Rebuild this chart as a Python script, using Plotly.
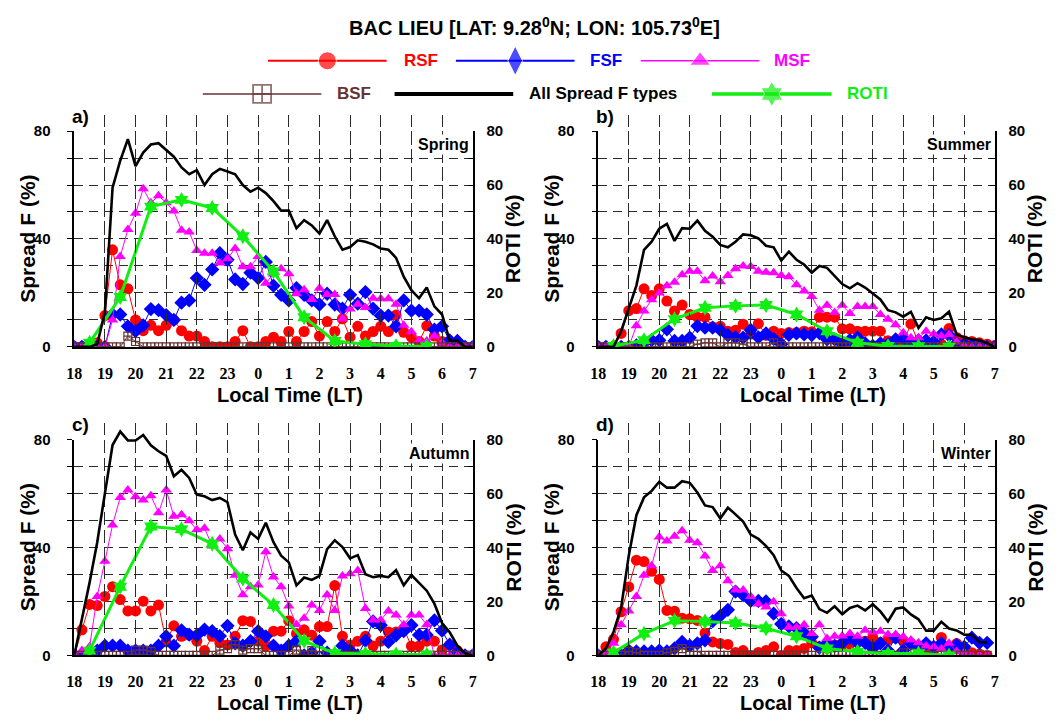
import plotly.graph_objects as go

W, H = 1064, 724

# 15-minute observation slots from 18:00 LT to 07:00 LT (hours counted from the first evening)
SLOTS = [18 + 0.25 * k for k in range(53)]
ROTI_TIMES = [18.5, 19.5, 20.5, 21.5, 22.5, 23.5, 24.5, 25.5, 26.5, 27.5, 28.5, 29.5]
HOUR_TICKS = [18, 19, 20, 21, 22, 23, 24, 25, 26, 27, 28, 29, 30, 31]
HOUR_LABELS = ["18", "19", "20", "21", "22", "23", "0", "1", "2", "3", "4", "5", "6", "7"]
LEVELS = [0, 10, 20, 30, 40, 50, 60, 70, 80]
LEFT_LABELS = ["0", "", "", "", "40", "", "", "", "80"]
RIGHT_LABELS = ["0", "", "20", "", "40", "", "60", "", "80"]

# ---------------- Spring ----------------
ALL_SPRING = [0, 0, 0, 1, 13, 59, 69, 77, 67, 72, 75, 75.5, 73, 70.5, 66.5, 64, 65.5, 60, 64, 66,
              65, 64, 60, 57.5, 59, 57, 54, 50.5, 50.5, 44, 47, 45, 42, 47, 41, 36, 37, 39.5, 39, 38,
              36.5, 36, 33, 26, 21, 18, 22, 15, 12, 2.3, 2.3, 0, 0]
RSF_SPRING = [0, 0, 0, 1.5, 11.6, 36, 23, 21.5, 10, 6, 8, 6, 8, 10, 6, 4, 4, 2, 0, 0,
              0, 2, 6, 0, 0, 2, 3.6, 2, 5.7, 2, 5.7, 9.4, 4, 9.4, 5.7, 10.4, 3.6, 7.6, 4, 5.7,
              7.6, 5.7, 11.8, 5.4, 3.6, 2, 7.8, 4, 2, 0, 0, 0, 0]
FSF_SPRING = [0, 0, 0, 0, 0, 12, 12, 7.6, 5.8, 8, 14, 13.6, 11.8, 10, 16.4, 17.2, 25.5, 23, 28.7, 34.7,
              32.3, 25, 23.3, 27.5, 25.5, 31.5, 22.7, 19.3, 17.2, 21.8, 19.3, 17.2, 15.7, 19.7, 15.7, 14.2, 19.3, 16, 20.3, 14.2,
              11.6, 11.6, 7.6, 17.2, 13.4, 13.4, 12, 6.4, 7.6, 2.4, 2.2, 0, 0]
MSF_SPRING = [0, 0, 0, 0, 0, 10, 33.5, 43.5, 49.5, 58.6, 53.4, 56, 53.4, 50.4, 43.2, 42.6, 35.7, 34.7, 34.7, 31.1,
              32.7, 36.5, 29.7, 29.7, 33.5, 23.6, 27, 29, 27.1, 19.7, 21.2, 17.6, 21.7, 19.4, 19.4, 10.4, 14, 15.8, 14.6, 18,
              17.8, 17.8, 15.8, 8, 5.6, 2.3, 2.2, 4, 1.5, 0, 0, 0, 0]
BSF_SPRING = [0, 0, 0, 0, 0, 0, 0, 4, 2, 0, 0, 0, 0, 0, 0, 0, 0, 0, 0, 0,
              0, 0, 0, 0, 0, 0, 0, 0, 0, 0, 0, 0, 0, 0, 0, 0, 0, 0, 0, 0,
              0, 0, 0, 0, 0, 0, 0, 0, 0, 0, 0, 0, 0]
ROTI_SPRING = [1.5, 18.5, 52, 54.5, 51.5, 41, 28, 11, 2.2, 1, 0.3, 0.2]

# ---------------- Summer ----------------
ALL_SUMMER = [0, 0, 0, 5.8, 14, 22.7, 36, 39, 43.8, 45.6, 39.3, 44, 43.8, 46.8, 43, 40.8, 37.8, 36.9, 39, 41.7,
              41.4, 40.2, 37.5, 36.9, 32, 35.3, 32.3, 30.5, 27.5, 30, 29.3, 26.3, 23.3, 21.7, 23.6, 22, 19.7, 17.6, 13.6, 12.8,
              11.2, 13, 7, 11, 10, 10.6, 13, 4.6, 3.6, 2.8, 2.5, 1.3, 0]
RSF_SUMMER = [0, 0, 0, 5, 13.4, 14.2, 21.5, 19, 21.5, 17, 13.3, 15.5, 12, 11, 11, 7.4, 7.6, 5.8, 6.2, 8.4,
              4.7, 8.6, 4.3, 5.8, 5, 5.3, 5.3, 5.8, 5.6, 11, 11, 11, 6.7, 6.7, 5.8, 5.8, 5.8, 5.8, 2.3, 2.3,
              1.5, 8.5, 1.5, 1, 1, 1, 6.8, 3.5, 2.3, 2, 1.5, 1, 0.5]
FSF_SUMMER = [0, 0, 0, 0, 0, 0.5, 1.5, 2.5, 2.5, 6.5, 2.2, 2.2, 3.4, 7.7, 7.1, 7.1, 6.3, 4.3, 3.6, 3.4,
              6.3, 3.5, 5, 3, 1, 4.5, 5, 4.6, 4.4, 5.1, 2.8, 2.8, 1, 2.5, 3.5, 1.3, 0.4, 1.3, 1, 2.8,
              3, 1.2, 2.4, 2.4, 1.8, 4.6, 4.3, 1.3, 1, 0.5, 0.5, 0, 0]
MSF_SUMMER = [0, 0, 0, 0, 0, 7.8, 13.3, 17.5, 20, 22.7, 24, 26.7, 28, 28, 24.5, 26.3, 24.1, 26.5, 29, 30,
              29.8, 28, 27.7, 27.5, 26.5, 26, 23, 20.7, 18.7, 13.6, 15.4, 12.7, 15.4, 12.4, 15, 15, 15, 12, 10.2, 8.2,
              5.2, 3.4, 3.4, 5.8, 4.8, 4, 4.6, 1.8, 0.5, 0, 0, 0, 0]
BSF_SUMMER = [0, 0, 0, 0, 0, 0, 0, 0, 0, 0, 0, 0, 0, 1, 1.5, 1.5, 0, 1.5, 1.5, 1,
              0, 0, 0, 1.5, 0.5, 0, 0, 0, 0, 0, 0, 0, 0, 0, 0, 0, 0, 0, 0, 0,
              0, 0, 0, 0, 0, 0, 0, 0, 0, 0, 0, 0, 0]
ROTI_SUMMER = [0.3, 2.5, 10.3, 14.5, 15.2, 15.5, 12, 5.8, 1.5, 0.3, 0.2, 0.1]

# ---------------- Autumn ----------------
ALL_AUTUMN = [0, 13, 27, 42, 60, 78, 83, 79.7, 79.7, 81.7, 77.9, 75.7, 74, 66.4, 68.8, 65.8, 59.6, 59, 57.6, 58.4,
              56.8, 44.8, 39, 45.6, 43.2, 49.2, 42, 37, 34.5, 26, 28.9, 28, 29.5, 39.4, 42.7, 40.2, 36, 37.2, 30.1, 29,
              29.5, 29, 31.6, 26, 29.8, 26.7, 24, 19.2, 12, 8.6, 3.6, 0.8, 0]
RSF_AUTUMN = [0, 9.5, 18.9, 18.5, 21.9, 25.5, 20.7, 16.5, 16.5, 20.1, 16.5, 18.7, 5, 11, 7.1, 7.5, 5.3, 1.8, 7.1, 4.7,
              3.9, 7.1, 12.9, 12.6, 5.3, 3.5, 9, 9, 12.9, 8.1, 9.5, 7.5, 10.7, 10.7, 25.9, 7.1, 3.9, 5.3, 7.1, 3.5,
              5.3, 8.7, 8.7, 9.9, 3.5, 3.5, 5.3, 5.3, 2, 3.9, 1.8, 0, 0]
FSF_AUTUMN = [0, 0, 0, 1.8, 3.6, 3.6, 3.6, 1.8, 1.8, 1.8, 1.8, 3.6, 7.1, 3.6, 9.3, 7.7, 7.5, 9.6, 9, 7.2,
              11, 4.5, 3.6, 5.3, 9, 7.1, 3.6, 1.8, 3.6, 5.3, 0, 1, 5.3, 1, 0, 3.6, 1.8, 0, 5.5, 12.6,
              11.2, 5, 7.5, 9, 11.2, 7.6, 7.6, 13, 9.2, 4, 1.2, 0, 0]
MSF_AUTUMN = [0, 1.8, 3.2, 21.9, 34.9, 48.4, 58.6, 61.3, 58.8, 57.6, 59.2, 52.9, 61.3, 51.6, 52.2, 49.9, 46.6, 47.2, 40.6, 43.2,
              39.6, 29.7, 22.5, 25.5, 26.1, 38.4, 29.1, 25.5, 18.3, 11.4, 13.8, 18.7, 16.7, 22.5, 16.7, 29.5, 30.3, 31.5, 17.4, 13.1,
              13.1, 16.5, 15, 11.4, 15, 15, 11.4, 0, 0, 0, 0, 0, 0]
BSF_AUTUMN = [0, 0, 0, 0, 0, 0, 0, 0, 2, 2, 1.5, 0, 0, 0, 0, 0, 0, 0, 0, 2,
              2.5, 4, 2, 2.5, 2.5, 0, 0, 0, 0, 2, 0, 1.8, 0, 0, 0, 0, 0, 0, 0, 0,
              0, 0, 0, 0, 0, 0, 0, 0, 0, 0, 0, 0, 0]
ROTI_AUTUMN = [1.8, 25.5, 47.8, 46.8, 41.4, 28.5, 18.7, 5.4, 0.8, 0.6, 0.4, 0.3]

# ---------------- Winter ----------------
ALL_WINTER = [0, 2.6, 8.7, 17.7, 37, 52, 58.6, 61, 64.4, 62.2, 62.2, 64.6, 64, 60.4, 55.6, 55, 50.8, 54.8, 52.3, 49.6,
              44.8, 43.2, 40.6, 37.2, 31.5, 29.5, 25, 21.2, 22.2, 17.2, 15.8, 18.2, 15.3, 17.6, 18.5, 16.7, 19, 16.3, 12.6, 17.3,
              17.8, 15.2, 13.4, 9.2, 9.2, 12.5, 10, 9.3, 7.7, 7.7, 4.9, 4.9, None]
RSF_WINTER = [0, 3.2, 6, 16.2, 25.4, 35.3, 34.8, 31.2, 28.2, 16.7, 16.4, 13.8, 13.6, 13, 8.3, 5, 4.4, 4.1, 1.1, 1.8,
              0, 1.1, 1.8, 3.2, 0, 1.8, 1.8, 2.6, 4.7, 3.2, 2.6, 3.9, 4, 4.2, 5.4, 5.3, 6.6, 4.8, 5.8, 6.5,
              5.5, 4.5, 3.5, 2.5, 2, 6.7, 1.5, 4.4, 2, 1, 0.5, 0, None]
FSF_WINTER = [0, 0, 0, 0, 1.8, 1.5, 1.5, 1.5, 1.8, 1.5, 2.6, 5, 3.6, 4.5, 5.6, 12.7, 14.7, 16.9, 23.7, 22.4,
              20.2, 20.2, 20, 15.5, 11.7, 10.8, 10.1, 8.3, 6.9, 2.9, 4.5, 3.5, 4.7, 6.6, 4.7, 4.7, 2.6, 4.5, 1.8, 6.6,
              1.8, 4.5, 2.6, 4.5, 3.2, 4.5, 3.2, 3.9, 3.2, 6.6, 4.7, 4.7, None]
MSF_WINTER = [0, 1, 4.5, 11.4, 16.5, 21.9, 29.7, 33.3, 43.9, 42.4, 44.2, 46.2, 42.7, 41.8, 36.9, 31.5, 33.3, 27.7, 24.3, 24.3,
              21.9, 19.1, 18, 19.9, 15.5, 10.5, 10.5, 11.4, 8.1, 11.4, 6.3, 7.1, 7.2, 8.1, 7.1, 9.3, 8.7, 9, 7.8, 7.8,
              6.9, 5.7, 4.7, 3.5, 3.2, 2.5, 4.5, 1.5, 1.1, 0, 0, 0, None]
BSF_WINTER = [0, 0, 0, 0, 1.5, 1, 0, 0, 0, 1, 1.5, 2.5, 1.5, 1.5, 0, 0, 0, 0, 0, 0,
              0, 0, 0, 0, 0, 0, 0, 0, 0, 0, 0, 0, 0, 0, 0, 0, 0, 0, 0, 0,
              1, 1, 0, 0, 0, 0, 0, 0, 0, 0, 0, 0, None]
ROTI_WINTER = [1.1, 8.1, 12.9, 12.6, 12, 10.1, 7.1, 2.6, 1.4, 0.6, 0.8, 0]

# ---------------- styling ----------------
C_RSF, C_FSF, C_MSF = "#ff0000", "#0000ff", "#ff00ff"
C_BSF, C_ALL, C_ROTI = "#663333", "#000000", "#11ee11"
GRID = "#2b2b2b"
DASH_H = "9px,6px"
DASH_V = "12px,6px"
SANS = "Liberation Sans"
SERIF = "Liberation Serif"
HEADROOM = 6  # percent above the 80 % frame where the total curve may rise

# plot-area boxes in pixels: left, right, top, bottom
PANELS = [
    dict(tag="a)", season="Spring", box=(67, 470, 125, 346),
         all=ALL_SPRING, rsf=RSF_SPRING, fsf=FSF_SPRING, msf=MSF_SPRING, bsf=BSF_SPRING, roti=ROTI_SPRING),
    dict(tag="b)", season="Summer", box=(597, 998, 125, 346),
         all=ALL_SUMMER, rsf=RSF_SUMMER, fsf=FSF_SUMMER, msf=MSF_SUMMER, bsf=BSF_SUMMER, roti=ROTI_SUMMER),
    dict(tag="c)", season="Autumn", box=(67, 470, 441, 662),
         all=ALL_AUTUMN, rsf=RSF_AUTUMN, fsf=FSF_AUTUMN, msf=MSF_AUTUMN, bsf=BSF_AUTUMN, roti=ROTI_AUTUMN),
    dict(tag="d)", season="Winter", box=(597, 998, 441, 662),
         all=ALL_WINTER, rsf=RSF_WINTER, fsf=FSF_WINTER, msf=MSF_WINTER, bsf=BSF_WINTER, roti=ROTI_WINTER),
]


def px(x):
    return x / W


def py(y):
    return 1 - y / H


def bold(size, color="black", family=SANS):
    return dict(family=family, size=size, color=color, weight="bold")


fig = go.Figure()
layout = {}
annotations = []

for p, panel in enumerate(PANELS):
    n = p + 1
    xid = "x" if n == 1 else f"x{n}"
    yid = "y" if n == 1 else f"y{n}"
    rid = f"y{n + 4}"
    tid = f"y{n + 12}"
    l, r, t, b = panel["box"]
    unit = (b - t) / 80.0

    layout["xaxis" if n == 1 else f"xaxis{n}"] = dict(
        domain=[px(l), px(r)], anchor=yid, range=[18, 31],
        tickmode="array", tickvals=HOUR_TICKS, ticktext=HOUR_LABELS,
        showgrid=True, gridcolor=GRID, gridwidth=1, griddash=DASH_V,
        showline=True, linecolor="black", linewidth=1.5, ticks="", zeroline=False,
        tickfont=bold(16, family=SERIF), ticklabelstandoff=11,
    )
    layout["yaxis" if n == 1 else f"yaxis{n}"] = dict(
        domain=[py(b), py(t)], anchor=xid, range=[0, 80],
        tickmode="array", tickvals=LEVELS, ticktext=LEFT_LABELS,
        showgrid=True, gridcolor=GRID, gridwidth=1, griddash=DASH_H,
        showline=True, linecolor="black", linewidth=1.5,
        ticks="outside", ticklen=5, tickcolor="black", zeroline=False,
        tickfont=bold(15), ticklabelstandoff=14,
    )
    layout[f"yaxis{n + 4}"] = dict(
        overlaying=yid, anchor=xid, side="right", range=[0, 80],
        tickmode="array", tickvals=LEVELS, ticktext=RIGHT_LABELS, showgrid=False,
        showline=True, linecolor="black", linewidth=1.5,
        ticks="inside", ticklen=5, tickcolor="black", zeroline=False,
        tickfont=bold(15), ticklabelstandoff=9,
    )
    # same scale as the left axis, but with headroom so the total curve is not cut at 80 %
    layout[f"yaxis{n + 12}"] = dict(
        domain=[py(b), py(t - HEADROOM * unit)], anchor=xid, range=[0, 80 + HEADROOM],
        visible=False, fixedrange=True,
    )

    fig.add_trace(go.Scatter(x=SLOTS, y=panel["rsf"], xaxis=xid, yaxis=yid, mode="lines+markers",
                             line=dict(color=C_RSF, width=1),
                             marker=dict(symbol="circle", size=11, color=C_RSF),
                             showlegend=False, hoverinfo="skip"))
    fig.add_trace(go.Scatter(x=SLOTS, y=panel["fsf"], xaxis=xid, yaxis=yid, mode="lines+markers",
                             line=dict(color=C_FSF, width=1),
                             marker=dict(symbol="diamond", size=11, color=C_FSF),
                             showlegend=False, hoverinfo="skip"))
    fig.add_trace(go.Scatter(x=SLOTS, y=panel["msf"], xaxis=xid, yaxis=yid, mode="lines+markers",
                             line=dict(color=C_MSF, width=1),
                             marker=dict(symbol="triangle-up", size=10, color=C_MSF),
                             showlegend=False, hoverinfo="skip"))
    fig.add_trace(go.Scatter(x=SLOTS, y=panel["bsf"], xaxis=xid, yaxis=yid, mode="lines+markers",
                             line=dict(color=C_BSF, width=1),
                             marker=dict(symbol="square-cross-open", size=8, color=C_BSF,
                                         line=dict(width=1.2, color=C_BSF)),
                             showlegend=False, hoverinfo="skip"))
    fig.add_trace(go.Scatter(x=ROTI_TIMES, y=panel["roti"], xaxis=xid, yaxis=rid, mode="lines+markers",
                             line=dict(color=C_ROTI, width=3),
                             marker=dict(symbol="hexagram", size=12, color=C_ROTI),
                             showlegend=False, hoverinfo="skip"))
    fig.add_trace(go.Scatter(x=SLOTS, y=panel["all"], xaxis=xid, yaxis=tid, mode="lines",
                             line=dict(color=C_ALL, width=2.6), showlegend=False, hoverinfo="skip"))

    # panel letter, season, axis titles
    cx = (l + r) / 2
    annotations += [
        dict(x=px(l - 4), y=py(t - 15), text=panel["tag"], xanchor="left", yanchor="middle",
             font=bold(19)),
        dict(x=px(r - 2), y=py(t + 14), text=panel["season"], xanchor="right", yanchor="middle",
             font=bold(16), bgcolor="white", borderpad=1),
        dict(x=px(cx + 17), y=py(b + 49), text="Local Time (LT)", xanchor="center", yanchor="middle",
             font=bold(20)),
        dict(x=px(l - 47), y=py((t + b) / 2), text="Spread F (%)", textangle=-90,
             xanchor="center", yanchor="middle", font=bold(21)),
        dict(x=px(r + 41), y=py((t + b) / 2), text="ROTI (%)", textangle=-90,
             xanchor="center", yanchor="middle", font=bold(21)),
    ]

# legend drawn on a hidden pixel-space axis pair covering the page
layout["xaxis9"] = dict(domain=[0, 1], range=[0, W], visible=False, fixedrange=True, anchor="y9")
layout["yaxis9"] = dict(domain=[0, 1], range=[H, 0], visible=False, fixedrange=True, anchor="x9")

LEGEND_KEYS = [
    # label, color, symbol, marker size, line width, line x0, x1, row y, text x
    ("RSF", C_RSF, "circle", 18, 1.8, 263, 383, 53, 398),
    ("FSF", C_FSF, "diamond-tall", 21, 1.8, 453, 573, 53, 587),
    ("MSF", C_MSF, "triangle-up", 18, 1.3, 640, 760, 53, 773),
    ("BSF", C_BSF, "square-cross-open", 18, 1.5, 197, 317, 87, 331),
    ("All Spread F types", C_ALL, None, 0, 4, 391, 511, 87, 525),
    ("ROTI", C_ROTI, "hexagram", 19, 3.5, 712, 833, 87, 847),
]
for label, color, symbol, msize, lw, x0, x1, yrow, tx in LEGEND_KEYS:
    xm = (x0 + x1) / 2
    if symbol is None:
        fig.add_trace(go.Scatter(x=[x0, x1], y=[yrow, yrow], xaxis="x9", yaxis="y9", mode="lines",
                                 line=dict(color=color, width=lw), showlegend=False, hoverinfo="skip"))
    else:
        mk = dict(symbol=symbol, size=[0, msize, 0], color=color)
        if symbol.endswith("open"):
            mk["line"] = dict(width=1.8, color=color)
        fig.add_trace(go.Scatter(x=[x0, xm, x1], y=[yrow, yrow, yrow], xaxis="x9", yaxis="y9",
                                 mode="lines+markers", line=dict(color=color, width=lw), marker=mk,
                                 showlegend=False, hoverinfo="skip"))
    annotations.append(dict(x=px(tx), y=py(yrow), text=label, xanchor="left", yanchor="middle",
                            font=bold(17, color=color)))

annotations.append(dict(x=0.5, y=py(18), text="BAC LIEU [LAT: 9.28<sup>0</sup>N; LON: 105.73<sup>0</sup>E]",
                        xanchor="center", yanchor="middle", font=bold(20)))

for a in annotations:
    a.setdefault("xref", "paper")
    a.setdefault("yref", "paper")
    a.setdefault("showarrow", False)

fig.update_layout(
    width=W, height=H, margin=dict(l=0, r=0, t=0, b=0),
    paper_bgcolor="white", plot_bgcolor="rgba(0,0,0,0)",
    showlegend=False, annotations=annotations, **layout,
)

fig.write_html("out.html", config={"displayModeBar": False})
